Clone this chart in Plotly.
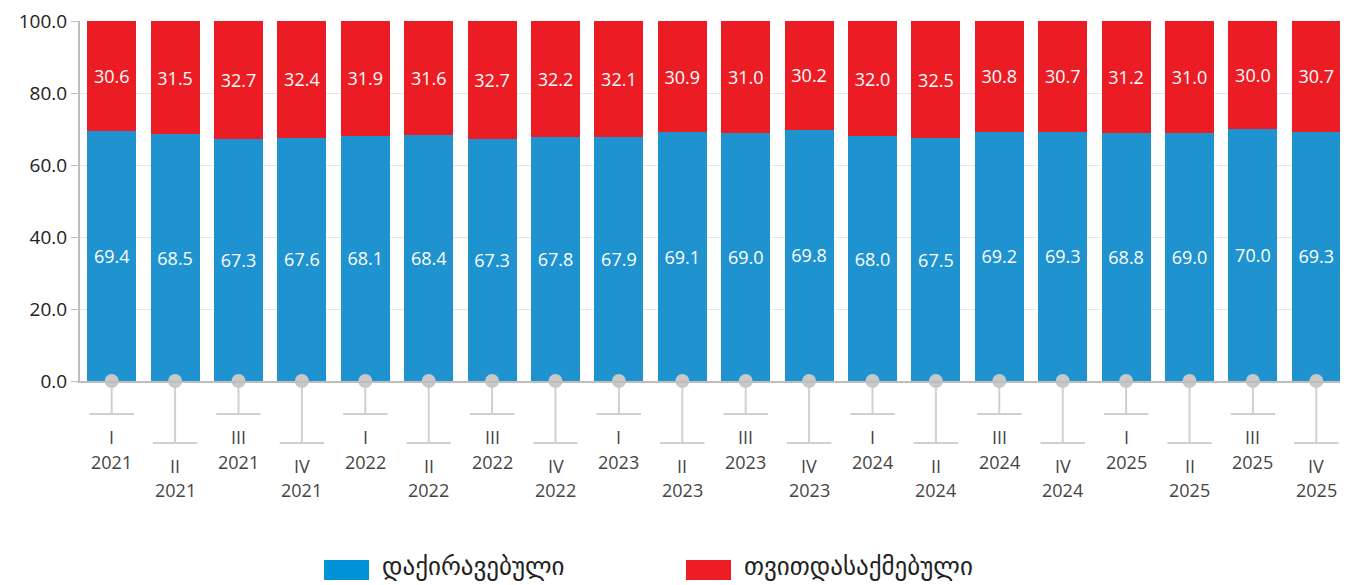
import plotly.graph_objects as go

# ---- data ----
quarters = ["I", "II", "III", "IV"] * 5
years = ["2021"] * 4 + ["2022"] * 4 + ["2023"] * 4 + ["2024"] * 4 + ["2025"] * 4
employed = [69.4, 68.5, 67.3, 67.6, 68.1, 68.4, 67.3, 67.8, 67.9, 69.1,
            69.0, 69.8, 68.0, 67.5, 69.2, 69.3, 68.8, 69.0, 70.0, 69.3]
self_employed = [30.6, 31.5, 32.7, 32.4, 31.9, 31.6, 32.7, 32.2, 32.1, 30.9,
                 31.0, 30.2, 32.0, 32.5, 30.8, 30.7, 31.2, 31.0, 30.0, 30.7]
series_names = ["დაქირავებული", "თვითდასაქმებული"]
y_ticks = [0, 20, 40, 60, 80, 100]

cats = [f"{q} {y}" for q, y in zip(quarters, years)]

# ---- style ----
OFF = 8  # page body margin
W, H = 1348 - OFF, 585 - OFF
ML, MR, MT, MB = 80 - OFF, 0, 21 - OFF, 204
PW, PH = W - ML - MR, H - MT - MB
BLUE, RED = "#1F93D0", "#EC1C24"
LEG_BLUE, LEG_RED = "#0092D6", "#EE1C25"
GREY = "#C8C8C8"
NUM_FONT = "Open Sans"


def py(pix):  # page pixel y (from top) -> paper y
    return (MT + PH - (pix - OFF)) / PH


def px(pix):  # page pixel x -> paper x
    return (pix - OFF - ML) / PW


fig = go.Figure()
fig.add_bar(x=cats, y=employed, name=series_names[0], marker_color=BLUE,
            marker_line_width=0, texttemplate="%{y:.1f}", textposition="inside",
            insidetextanchor="middle", textangle=0,
            textfont=dict(color="white", size=18, family=NUM_FONT), showlegend=False)
fig.add_bar(x=cats, y=self_employed, name=series_names[1], marker_color=RED,
            marker_line_width=0, texttemplate="%{y:.1f}", textposition="inside",
            insidetextanchor="middle", textangle=0,
            textfont=dict(color="white", size=18, family=NUM_FONT), showlegend=False)
fig.add_scatter(x=cats, y=[0] * len(cats), mode="markers", cliponaxis=False,
                marker=dict(size=14, color=GREY), hoverinfo="skip", showlegend=False)

shapes = []
annotations = []
for i, (q, yr) in enumerate(zip(quarters, years)):
    long = i % 2 == 1
    y_end = 443 if long else 414
    shapes.append(dict(type="line", xref="x", yref="paper", x0=i, x1=i,
                       y0=0, y1=py(y_end), line=dict(color="#D0D0D0", width=2), layer="below"))
    shapes.append(dict(type="line", xref="x", yref="paper", x0=i - 0.35, x1=i + 0.35,
                       y0=py(y_end), y1=py(y_end), line=dict(color="#D0D0D0", width=2)))
    yq, yy = (466, 490) if long else (437, 462)
    annotations.append(dict(x=i, y=py(yq), xref="x", yref="paper", text=q, showarrow=False,
                            yanchor="middle", font=dict(size=18, color="#444", family=NUM_FONT)))
    annotations.append(dict(x=i, y=py(yy), xref="x", yref="paper", text=yr, showarrow=False,
                            yanchor="middle", font=dict(size=18, color="#444", family=NUM_FONT)))

# custom legend
for (x0, x1, xt, col, name) in [(324, 369, 380, LEG_BLUE, series_names[0]),
                                (686, 731, 742, LEG_RED, series_names[1])]:
    shapes.append(dict(type="rect", xref="paper", yref="paper", x0=px(x0), x1=px(x1),
                       y0=py(580), y1=py(560), fillcolor=col, line=dict(width=0)))
    annotations.append(dict(x=px(xt), y=py(566), xref="paper", yref="paper", text=name,
                            showarrow=False, xanchor="left", yanchor="middle",
                            font=dict(size=25, color="#222", family="DejaVu Sans")))

fig.update_layout(
    width=W, height=H, barmode="stack", bargap=0.228,
    margin=dict(l=ML, r=MR, t=MT, b=MB, autoexpand=False),
    plot_bgcolor="white", paper_bgcolor="white",
    shapes=shapes, annotations=annotations,
    xaxis=dict(type="category", range=[-0.5, len(cats) - 0.5], showticklabels=False,
               showline=True, linecolor="#BDBDBD", linewidth=2, showgrid=False,
               zeroline=False, ticks="", automargin=False),
    yaxis=dict(range=[0, 100], tickvals=y_ticks, tickformat=".1f", showline=True,
               linecolor="#BDBDBD", linewidth=2, ticks="outside", ticklen=7,
               tickcolor="#BDBDBD", gridcolor="#E6E6E6", zeroline=False, automargin=False,
               ticklabeloverflow="allow",
               tickfont=dict(size=19, color="#222", family=NUM_FONT)),
)

fig.write_html("out.html")
